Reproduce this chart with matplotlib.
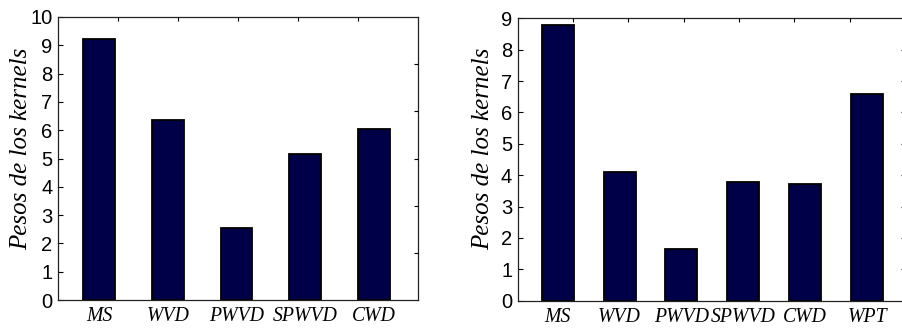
import matplotlib
matplotlib.use("Agg")
import matplotlib.pyplot as plt
import numpy as np

# Data
cats_left = ["MS", "WVD", "PWVD", "SPWVD", "CWD"]
vals_left = [9.22, 6.36, 2.55, 5.15, 6.03]
cats_right = ["MS", "WVD", "PWVD", "SPWVD", "CWD", "WPT"]
vals_right = [8.78, 4.10, 1.66, 3.77, 3.71, 6.58]
ylabel = "Pesos de los kernels"
yticks_left = list(range(0, 11))
yticks_right = list(range(0, 10))

W, H = 903, 329
fig = plt.figure(figsize=(W / 100, H / 100), dpi=100)

bar_color = "#000048"
tick_font = {"family": "Liberation Sans", "size": 14.5}
cat_font = {"family": "Liberation Serif", "style": "italic", "size": 14.2}
lab_font = {"family": "Liberation Serif", "style": "italic", "size": 18}


def px_rect(x0, x1, ytop, ybot):
    return [x0 / W, (H - ybot) / H, (x1 - x0) / W, (ybot - ytop) / H]


def panel(rect, cats, vals, yticks, xlim, width, ndiv_top, right_ticks, lab_xy):
    ax = fig.add_axes(rect)
    x = np.arange(len(cats))
    ax.bar(x, vals, width=width, color=bar_color, edgecolor="black", linewidth=1.3)
    ax.set_xlim(*xlim)
    ax.set_ylim(yticks[0], yticks[-1])
    ax.set_yticks(yticks)
    ax.set_yticklabels([str(v) for v in yticks], fontdict=tick_font)
    ax.set_xticks(x)
    ax.set_xticklabels(cats, fontdict=cat_font)
    ax.tick_params(axis="x", length=0, pad=5)
    ax.tick_params(axis="y", direction="in", length=3.5, width=0.8, pad=4)
    for s in ax.spines.values():
        s.set_linewidth(0.9)
        s.set_color("#222222")
    ax.set_ylabel(ylabel, fontdict=lab_font)
    ax.yaxis.label.set_verticalalignment("center")
    ax.yaxis.set_label_coords(*lab_xy)
    # overlay for top/right ticks
    ov = fig.add_axes(rect, facecolor="none")
    ov.set_xlim(0, ndiv_top)
    ov.set_xticks(range(1, ndiv_top))
    ov.set_ylim(right_ticks[0], right_ticks[1])
    ov.set_yticks(right_ticks[2])
    ov.tick_params(bottom=False, left=False, labelbottom=False, labelleft=False,
                   top=True, right=True, direction="in", length=3, width=0.8)
    for s in ov.spines.values():
        s.set_visible(False)
    return ax


panel(px_rect(58, 418, 17, 300), cats_left, vals_left, yticks_left,
      (-0.596, 4.64), 0.465, 6, (0, 6, list(range(1, 6))), (-0.102, 0.534))
panel(px_rect(517.7, 905, 18.3, 300.7), cats_right, vals_right, yticks_right,
      (-0.647, 5.614), 0.517, 7, (0, 9, list(range(1, 9))), (-0.088, 0.537))

fig.savefig("out.png", dpi=100)
